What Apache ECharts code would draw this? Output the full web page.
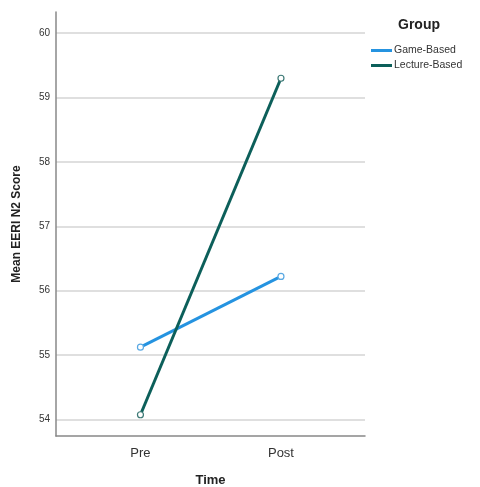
<!DOCTYPE html>
<html>
<head>
<meta charset="utf-8">
<script src="https://cdn.jsdelivr.net/npm/echarts@6/dist/echarts.min.js"></script>
<style>html,body{margin:0;padding:0;background:#fff}#c{width:480px;height:487px}</style>
</head>
<body>
<div id="c"></div>
<script>
var categories = ['Pre', 'Post'];
var seriesNames = ['Game-Based', 'Lecture-Based'];
var gameBased = [55.12, 56.22];
var lectureBased = [54.07, 59.30];
var yTicks = [54, 55, 56, 57, 58, 59, 60];
var colors = ['#2593e0', '#0c5f5a'];

function toPoints(vals) { return vals.map(function (v, i) { return [i, v]; }); }

var chart = echarts.init(document.getElementById('c'), null, { renderer: 'canvas' });
var font = 'Liberation Sans, Arial, sans-serif';
chart.setOption({
  animation: false,
  backgroundColor: '#fff',
  grid: { left: 56, top: 12, right: 115, bottom: 51, containLabel: false, outerBoundsMode: 'none' },
  graphic: [
    { type: 'text', left: 398, top: 18, style: { text: 'Group', font: 'bold 14px ' + font, fill: '#222' } }
  ],
  legend: {
    orient: 'vertical', left: 366, top: 40, itemWidth: 21, itemHeight: 3, itemGap: 4,
    icon: 'rect',
    textStyle: { fontFamily: font, fontSize: 10.5, color: '#333', padding: [0, 0, 0, -3] },
    data: seriesNames.map(function (n, i) {
      return { name: n, itemStyle: { color: colors[i], borderWidth: 0 } };
    })
  },
  xAxis: {
    type: 'value', min: -0.601, max: 1.598,
    name: 'Time', nameLocation: 'middle', nameGap: 38,
    nameTextStyle: { fontFamily: font, fontSize: 13, fontWeight: 'bold', color: '#222' },
    axisLine: { show: true, onZero: false, lineStyle: { color: '#888', width: 1.5 } },
    axisTick: { show: false, customValues: [0, 1] },
    splitLine: { show: false },
    axisLabel: {
      customValues: [0, 1], margin: 11,
      fontFamily: font, fontSize: 13, color: '#333',
      formatter: function (v) { return categories[Math.round(v)] || ''; }
    }
  },
  yAxis: {
    type: 'value', min: 53.74, max: 60.33,
    name: 'Mean EERI N2 Score', nameLocation: 'middle', nameGap: 33, nameRotate: 90,
    nameTextStyle: { fontFamily: font, fontSize: 12, fontWeight: 'bold', color: '#222' },
    axisLine: { show: true, onZero: false, lineStyle: { color: '#888', width: 1.5 } },
    axisTick: { show: false, customValues: yTicks },
    axisLabel: { customValues: yTicks, margin: 6, fontFamily: font, fontSize: 10, color: '#333' },
    splitLine: { show: true, lineStyle: { color: '#d4d4d4', width: 1.5 } }
  },
  series: [
    {
      name: seriesNames[0], type: 'line', data: toPoints(gameBased), color: colors[0],
      lineStyle: { color: colors[0], width: 3 }, itemStyle: { color: '#fff', borderColor: '#5aa9e3', borderWidth: 1.2 },
      symbol: 'circle', symbolSize: 6, z: 3
    },
    {
      name: seriesNames[1], type: 'line', data: toPoints(lectureBased), color: colors[1],
      lineStyle: { color: colors[1], width: 3 }, itemStyle: { color: '#fff', borderColor: '#3e7a76', borderWidth: 1.2 },
      symbol: 'circle', symbolSize: 6, z: 4
    }
  ]
});
</script>
</body>
</html>
